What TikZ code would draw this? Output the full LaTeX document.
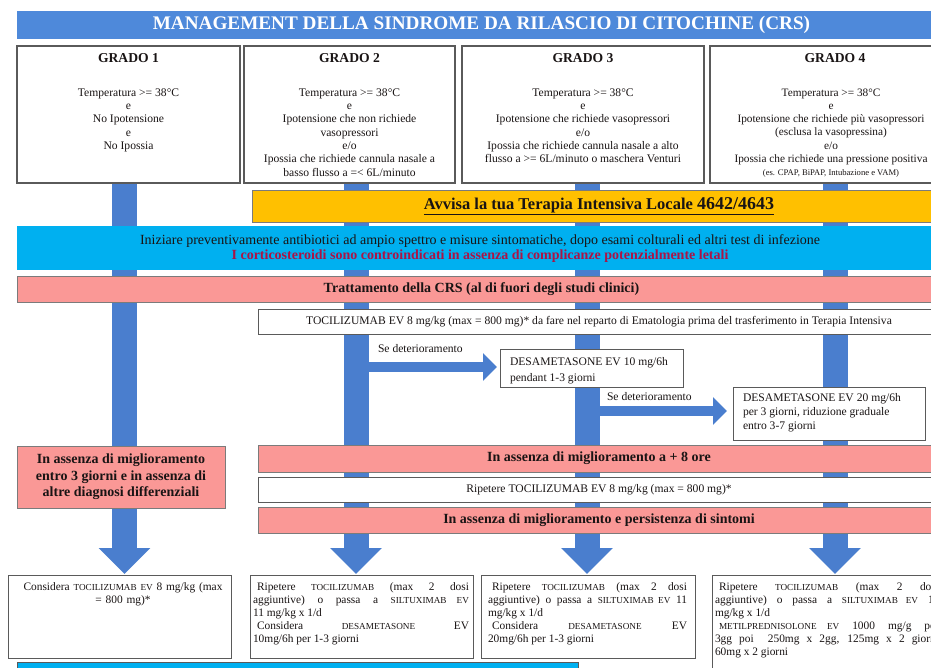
\documentclass[tikz,border=0pt]{standalone}
\usepackage{fontspec}
\setmainfont{Liberation Serif}
\usetikzlibrary{arrows.meta}
\definecolor{titleblue}{RGB}{78,137,218}
\definecolor{shaftblue}{RGB}{74,126,206}
\definecolor{ybar}{RGB}{255,192,0}
\definecolor{cbar}{RGB}{0,176,240}
\definecolor{pbar}{RGB}{250,152,150}
\definecolor{redc}{RGB}{170,20,70}
\definecolor{edge}{RGB}{90,90,90}
\definecolor{ink}{RGB}{25,20,20}
\newcommand\fs[2]{\fontsize{#1}{#2}\selectfont}
\newcommand\smc[1]{{\fontsize{9.2}{10}\selectfont #1}}
\newcommand\jl[2]{\makebox[#1pt][s]{#2}}
\begin{document}
\begin{tikzpicture}[x=1pt,y=-1pt,
 every node/.style={inner sep=0pt, outer sep=0pt, text=ink},
 gbox/.style={draw=edge, line width=1.5pt, fill=white},
 wbox/.style={draw=edge, line width=1pt, fill=white},
 bar/.style={draw=edge!80, line width=0.8pt},
 shaft/.style={draw=shaftblue, line width=25pt, -{Triangle[width=50pt,length=26pt]}},
 hshaft/.style={draw=shaftblue, line width=10pt, -{Triangle[width=27pt,length=14pt]}},
 gtitle/.style={font=\fs{13.6}{15}\bfseries},
 body/.style={font=\fs{11.6}{13.3}, align=center, anchor=north},
 boldbar/.style={font=\fs{14}{16.5}\bfseries},
 small/.style={font=\fs{11.6}{14}},
 bot/.style={font=\fs{11.4}{13}, align=left, anchor=north west},
]
\useasboundingbox (0,0) rectangle (931,668);
\clip (0,0) rectangle (931,668);
\fill[white] (0,0) rectangle (931,668);

% title
\node[fill=titleblue, minimum width=929pt, minimum height=28pt, text=white,
  font=\fs{19.2}{21}\bfseries] (title) at (481.5,25) {MANAGEMENT DELLA SINDROME DA RILASCIO DI CITOCHINE (CRS)};

% shaft coordinates
\coordinate (s1) at (124.5,183); \coordinate (e1) at (124.5,574);
\coordinate (s2) at (356,183);   \coordinate (e2) at (356,574);
\coordinate (s3) at (587,183);   \coordinate (e3) at (587,574);
\coordinate (s4) at (835,183);   \coordinate (e4) at (835,574);
\draw[shaft] (s1) -- (e1);
\draw[shaft] (s2) -- (e2);
\draw[shaft] (s3) -- (e3);
\draw[shaft] (s4) -- (e4);

% grade boxes
\node[gbox, minimum width=223pt, minimum height=137pt] (g1) at (128.5,114.5) {};
\node[gbox, minimum width=211pt, minimum height=137pt] (g2) at (349.5,114.5) {};
\node[gbox, minimum width=242pt, minimum height=137pt] (g3) at (583,114.5) {};
\node[gbox, minimum width=250pt, minimum height=137pt] (g4) at (835,114.5) {};
\node[gtitle] (g1t) at (128.5,58) {GRADO 1};
\node[gtitle] (g2t) at (349.5,58) {GRADO 2};
\node[gtitle] (g3t) at (583,58) {GRADO 3};
\node[gtitle] (g4t) at (835,58) {GRADO 4};
\node[body] (g1b) at (128.5,88.5) {Temperatura >= 38°C\\e\\No Ipotensione\\e\\No Ipossia};
\node[body] (g2b) at (349.5,88.5) {Temperatura >= 38°C\\e\\Ipotensione che non richiede\\vasopressori\\e/o\\Ipossia che richiede cannula nasale a\\basso flusso a =< 6L/minuto};
\node[body] (g3b) at (583,88.5) {Temperatura >= 38°C\\e\\Ipotensione che richiede vasopressori\\e/o\\Ipossia che richiede cannula nasale a alto\\flusso a >= 6L/minuto o maschera Venturi};
\node[body, font=\fs{11.3}{13.3}] (g4b) at (831,88.5) {Temperatura >= 38°C\\e\\Ipotensione che richiede più vasopressori\\(esclusa la vasopressina)\\e/o\\Ipossia che richiede una pressione positiva\\{\fs{8.6}{13.3}(es. CPAP, BiPAP, Intubazione e VAM)}};

% yellow, cyan, pink bars
\node[bar, fill=ybar, minimum width=694pt, minimum height=32pt,
  font=\fs{16.5}{18}\bfseries] (yel) at (599,206)
  {\underline{Avvisa la tua Terapia Intensiva Locale {\fs{18}{20}4642/4643}}};
\node[fill=cbar, minimum width=929pt, minimum height=44pt] (cy) at (481.5,248) {};
\node[font=\fs{14}{15}, align=center] (cyt) at (480,249)
  {Iniziare preventivamente antibiotici ad ampio spettro e misure sintomatiche, dopo esami colturali ed altri test di infezione\\
   {\bfseries\color{redc}I corticosteroidi sono controindicati in assenza di complicanze potenzialmente letali}};
\node[bar, fill=pbar, minimum width=929pt, minimum height=26pt, boldbar] (tr) at (481.5,289)
  {Trattamento della CRS (al di fuori degli studi clinici)};

% tocilizumab box
\node[wbox, minimum width=682pt, minimum height=25pt, small] (toc) at (599,321.5)
  {TOCILIZUMAB EV 8 mg/kg (max = 800 mg)* da fare nel reparto di Ematologia prima del trasferimento in Terapia Intensiva};

% desametasone boxes
\node[wbox, minimum width=183pt, minimum height=38pt] (desa10) at (591.5,368) {};
\node[small, align=left, anchor=north west, font=\fs{11.6}{15.5}] (desa10t) at (510,357.5)
  {DESAMETASONE EV 10 mg/6h\\pendant 1-3 giorni};
\node[wbox, minimum width=192pt, minimum height=53pt] (desa20) at (829,413.5) {};
\node[small, align=left, anchor=north west] (desa20t) at (743,393.5)
  {DESAMETASONE EV 20 mg/6h\\per 3 giorni, riduzione graduale\\entro 3-7 giorni};

% horizontal arrows
\coordinate (h1) at (356,367);
\coordinate (h2) at (587,411);
\draw[hshaft, shorten >=3pt] (h1) -- (desa10.west |- h1);
\draw[hshaft, shorten >=6pt] (h2) -- (desa20.west |- h2);
\node[small, anchor=west] (sd1) at (378,349) {Se deterioramento};
\node[small, anchor=west] (sd2) at (607,397) {Se deterioramento};

% second row of bars
\node[bar, fill=pbar, minimum width=208pt, minimum height=62pt, boldbar, align=center] (lp) at (121,477)
  {In assenza di miglioramento\\entro 3 giorni e in assenza di\\altre diagnosi differenziali};
\node[bar, fill=pbar, minimum width=682pt, minimum height=27pt, boldbar] (p8) at (599,458.5)
  {In assenza di miglioramento a + 8 ore};
\node[wbox, minimum width=682pt, minimum height=25pt, small] (rip) at (599,489.5)
  {Ripetere TOCILIZUMAB EV 8 mg/kg (max = 800 mg)*};
\node[bar, fill=pbar, minimum width=682pt, minimum height=26pt, boldbar] (pp) at (599,520)
  {In assenza di miglioramento e persistenza di sintomi};

% bottom boxes
\node[wbox, minimum width=223pt, minimum height=83pt] (b1) at (119.5,616.5) {};
\node[wbox, minimum width=223pt, minimum height=83pt] (b2) at (361.5,616.5) {};
\node[wbox, minimum width=214pt, minimum height=83pt] (b3) at (588,616.5) {};
\node[wbox, minimum width=250pt, minimum height=125pt] (b4) at (837,637.5) {};
\node[bot, text width=206pt, align=center] (b1t) at (20,583)
  {Considera \smc{TOCILIZUMAB EV} 8 mg/kg (max\\= 800 mg)*};
\node[bot] (b2t) at (253,583)
  {\jl{216}{\hspace{4pt}Ripetere \smc{TOCILIZUMAB} (max 2 dosi}\\
   \jl{216}{aggiuntive) o passa a \smc{SILTUXIMAB EV}}\\
   11 mg/kg x 1/d\\
   \jl{216}{\hspace{4pt}Considera \smc{DESAMETASONE} EV}\\
   10mg/6h per 1-3 giorni};
\node[bot] (b3t) at (488,583)
  {\jl{199}{\hspace{4pt}Ripetere \smc{TOCILIZUMAB} (max 2 dosi}\\
   \jl{199}{aggiuntive) o passa a \smc{SILTUXIMAB EV} 11}\\
   mg/kg x 1/d\\
   \jl{199}{\hspace{4pt}Considera \smc{DESAMETASONE} EV}\\
   20mg/6h per 1-3 giorni};
\node[bot] (b4t) at (715,583)
  {\jl{224}{\hspace{4pt}Ripetere \smc{TOCILIZUMAB} (max 2 dosi}\\
   \jl{224}{aggiuntive) o passa a \smc{SILTUXIMAB EV} 11}\\
   mg/kg x 1/d\\
   \jl{224}{\hspace{4pt}\smc{METILPREDNISOLONE EV} 1000 mg/g per}\\
   \jl{224}{3gg poi\ \ 250mg x 2gg, 125mg x 2 giorni}\\
   60mg x 2 giorni};

% bottom cyan bar
\node[fill=cbar, draw=edge, line width=1pt, minimum width=561pt, minimum height=40pt, anchor=north west] (cbot) at (17,662) {};
\end{tikzpicture}
\end{document}
